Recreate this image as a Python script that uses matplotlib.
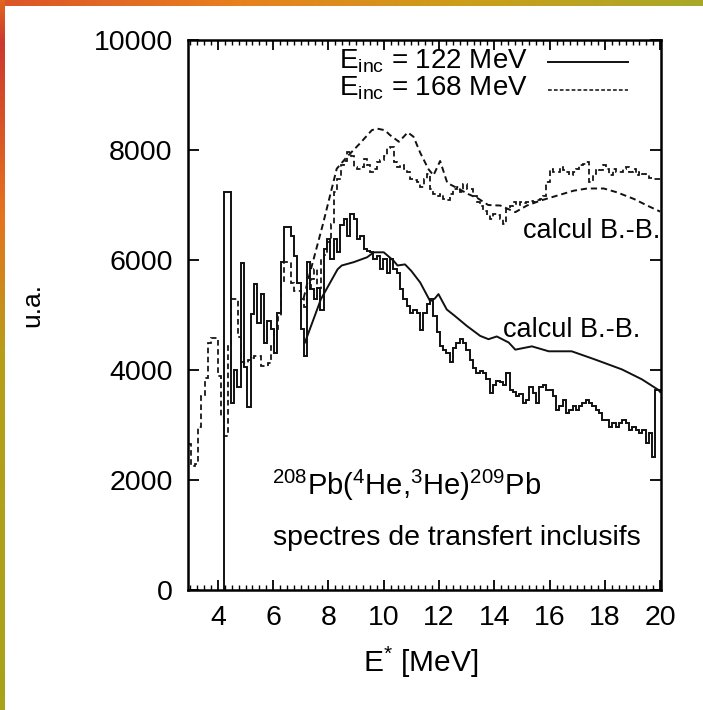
import numpy as np
import matplotlib
matplotlib.use("Agg")
import matplotlib.pyplot as plt
from matplotlib.ticker import MultipleLocator, FixedLocator

plt.rcParams['font.family'] = ['Liberation Sans', 'DejaVu Sans']
plt.rcParams['mathtext.fontset'] = 'custom'
plt.rcParams['mathtext.rm'] = 'Liberation Sans'
plt.rcParams['mathtext.it'] = 'Liberation Sans:italic'
plt.rcParams['mathtext.bf'] = 'Liberation Sans:bold'

# ---- measured spectra (histograms, bin width 0.12 MeV) ----
bin_width = 0.12
exp122_start = 4.23
exp122_counts = [
    7230, 7230, 3400, 4000, 3700, 5950, 4050, 3330, 5010, 5560,
    4860, 5380, 4500, 4890, 4740, 4310, 5040, 5960, 6600, 6600,
    6440, 6080, 5590, 4740, 4250, 5960, 5470, 5290, 5500, 5100,
    6200, 6380, 6020, 6380, 6150, 6630, 6750, 6440, 6840, 6750,
    6380, 6440, 6200, 6170, 6140, 6020, 6080, 5830, 6020, 5770,
    6020, 5830, 5770, 5470, 5290, 5160, 5040, 5100, 5040, 4720,
    5040, 5200, 5290, 4980, 4700, 4430, 4370, 4310, 4150, 4400,
    4500, 4560, 4490, 4370, 4190, 4040, 3950, 3980, 3950, 3830,
    3580, 3730, 3800, 3790, 3730, 3950, 3640, 3600, 3520, 3570,
    3400, 3460, 3700, 3580, 3400, 3700, 3730, 3640, 3640, 3520,
    3280, 3340, 3460, 3220, 3280, 3340, 3280, 3340, 3400, 3460,
    3400, 3340, 3280, 3220, 3100, 3100, 2970, 3040, 2970, 3030,
    3100, 3040, 2910, 2970, 2910, 2850, 2910, 2670, 2850, 2420,
    3640, 3640,
]

exp168_start = 2.92
exp168_counts = [
    2650, 2250, 2300, 2970, 3520, 3860, 4500, 4590, 4590, 3890,
    3150, 2800, 4430, 5290, 5290, 4600, 4150, 4130, 4190, 4220,
    4250, 4250, 4070, 4070, 4130, 4430, 4740, 4980, 5590, 5960,
    5960, 5590, 5440, 5440, 5300, 5150, 5500, 5650, 5830, 5500,
    6020, 6100, 6320, 6650, 7230, 7480, 7720, 7800, 7960, 7900,
    7690, 7660, 7690, 7840, 7720, 7600, 7660, 7780, 7810, 7900,
    8030, 8060, 7780, 7690, 7720, 7660, 7600, 7480, 7450, 7420,
    7330, 7480, 7560, 7300, 7200, 7170, 7200, 7110, 7100, 7200,
    7290, 7330, 7240, 7390, 7300, 7290, 7170, 7050, 6990, 6900,
    6810, 6750, 6840, 6810, 6750, 6660, 6930, 6990, 7050, 7000,
    7050, 7040, 7060, 7080, 7060, 7100, 7110, 7170, 7420, 7660,
    7600, 7600, 7690, 7630, 7600, 7540, 7600, 7660, 7720, 7750,
    7780, 7420, 7560, 7660, 7630, 7720, 7660, 7540, 7660, 7600,
    7600, 7650, 7690, 7600, 7660, 7540, 7600, 7560, 7540, 7500,
    7480, 7480, 7480,
]

# ---- Bonaccorso-Brink calculations ----
calc122_e = [7.15, 7.73, 8.33, 8.48, 8.91, 9.40, 9.64, 10.0, 10.35, 10.5,
             10.77, 11.0, 11.32, 11.68, 11.85, 11.98, 12.28, 12.58, 13.01,
             13.49, 13.79, 14.09, 14.52, 14.76, 15.36, 15.97, 16.8, 17.65,
             18.62, 19.34, 19.93, 20.0]
calc122_y = [4500, 5290, 5830, 5900, 5960, 6050, 6140, 6140, 5990, 5900,
             5920, 5800, 5590, 5250, 5300, 5380, 5100, 4980, 4800,
             4620, 4560, 4610, 4500, 4370, 4430, 4340, 4340, 4190,
             4010, 3830, 3640, 3600]

calc168_e = [7.1, 7.27, 7.8, 8.30, 8.66, 9.14, 9.57, 9.75, 10.04, 10.23,
             10.55, 10.87, 11.08, 11.32, 11.62, 11.80, 12.04, 12.30, 12.69,
             13.05, 13.41, 13.78, 14.22, 14.76, 15.18, 15.67, 16.27, 16.87,
             17.36, 17.96, 18.44, 19.05, 19.53, 20.0]
calc168_y = [5300, 5650, 6650, 7660, 7870, 8120, 8360, 8390, 8360, 8270,
             8150, 8320, 8240, 7950, 7650, 7540, 7800, 7400, 7300,
             7200, 7120, 7000, 6990, 6870, 6990, 7080, 7170, 7260,
             7300, 7300, 7230, 7110, 6990, 6880]

x_major = [4, 6, 8, 10, 12, 14, 16, 18, 20]
y_major = [0, 2000, 4000, 6000, 8000, 10000]

W, H = 703, 710
fig = plt.figure(figsize=(W / 100, H / 100), dpi=100)
fig.patch.set_facecolor('white')

# slide frame: gradient strips along the top and left edges
top = np.linspace(0, 1, W)
top_cols = np.array([[0.86, 0.33, 0.16], [0.91, 0.50, 0.12],
                     [0.80, 0.62, 0.10], [0.66, 0.66, 0.16]])
pos = np.linspace(0, 1, len(top_cols))
strip = np.stack([np.interp(top, pos, top_cols[:, c]) for c in range(3)], -1)
fig.figimage(np.repeat(strip[None, :, :], 6, axis=0), xo=0, yo=H - 6, zorder=5)
left = np.linspace(0, 1, H)
left_cols = np.array([[0.88, 0.40, 0.12], [0.80, 0.22, 0.18], [0.90, 0.45, 0.12],
                      [0.72, 0.62, 0.10], [0.66, 0.64, 0.10]])
lpos = np.array([0.0, 0.06, 0.3, 0.5, 1.0])
lstrip = np.stack([np.interp(left, lpos, left_cols[:, c]) for c in range(3)], -1)
fig.figimage(np.repeat(lstrip[:, None, :], 5, axis=1), xo=0, yo=0, zorder=5)

ax = fig.add_axes([188 / W, 1 - 590 / H, 473 / W, 550 / H])

lw = 1.4
dash = (0, (3.2, 2.0))

e122 = exp122_start + bin_width * np.arange(len(exp122_counts) + 1)
ax.stairs(exp122_counts, e122, baseline=0, color='#111111', lw=lw)
e168 = exp168_start + bin_width * np.arange(len(exp168_counts) + 1)
ax.stairs(exp168_counts, e168, baseline=None, color='#111111', lw=lw * 0.9,
          linestyle=dash)
ax.plot(calc122_e, calc122_y, color='#111111', lw=lw)
ax.plot(calc168_e, calc168_y, color='#111111', lw=lw, linestyle=dash)

ax.set_xlim(2.92, 20.03)
ax.set_ylim(0, 10000)
ax.xaxis.set_major_locator(FixedLocator(x_major))
ax.xaxis.set_minor_locator(MultipleLocator(0.25))
ax.yaxis.set_major_locator(FixedLocator(y_major))
ax.tick_params(axis='x', which='major', direction='in', length=7, width=1.3,
               top=True, labelsize=20.5, pad=11)
ax.tick_params(axis='x', which='minor', direction='in', length=3.5, width=1.0,
               top=True)
ax.tick_params(axis='y', which='major', direction='in', length=8, width=1.3,
               right=True, labelsize=20.5, pad=11)
for s in ax.spines.values():
    s.set_linewidth(1.8)

# legend drawn as plain text with line samples
ax.text(0.719, 0.949, r'E$_{\mathrm{inc}}$ = 122 MeV', transform=ax.transAxes,
        ha='right', va='baseline', fontsize=20)
ax.text(0.719, 0.900, r'E$_{\mathrm{inc}}$ = 168 MeV', transform=ax.transAxes,
        ha='right', va='baseline', fontsize=20)
ax.plot([0.761, 0.930], [0.960, 0.960], transform=ax.transAxes,
        color='#111111', lw=lw)
ax.plot([0.761, 0.930], [0.909, 0.909], transform=ax.transAxes,
        color='#111111', lw=lw * 0.8, linestyle=(0, (2.4, 1.4)))

ax.text(0.708, 0.640, 'calcul B.-B.', transform=ax.transAxes,
        ha='left', va='baseline', fontsize=19.5)
ax.text(0.666, 0.460, 'calcul B.-B.', transform=ax.transAxes,
        ha='left', va='baseline', fontsize=19.5)
ax.text(0.178, 0.173, r'$^{208}$Pb($^{4}$He,$^{3}$He)$^{209}$Pb',
        transform=ax.transAxes, ha='left', va='baseline', fontsize=21)
ax.text(0.180, 0.082, 'spectres de transfert inclusifs',
        transform=ax.transAxes, ha='left', va='baseline', fontsize=20.5)

fig.text(421 / W, 1 - 672 / H, r'E$^{*}$ [MeV]', ha='center', va='baseline',
         fontsize=21.5)
fig.text(32 / W, 1 - 305 / H, 'u.a.', ha='center', va='center',
         rotation=90, fontsize=19)

fig.savefig('out.png', dpi=100)
